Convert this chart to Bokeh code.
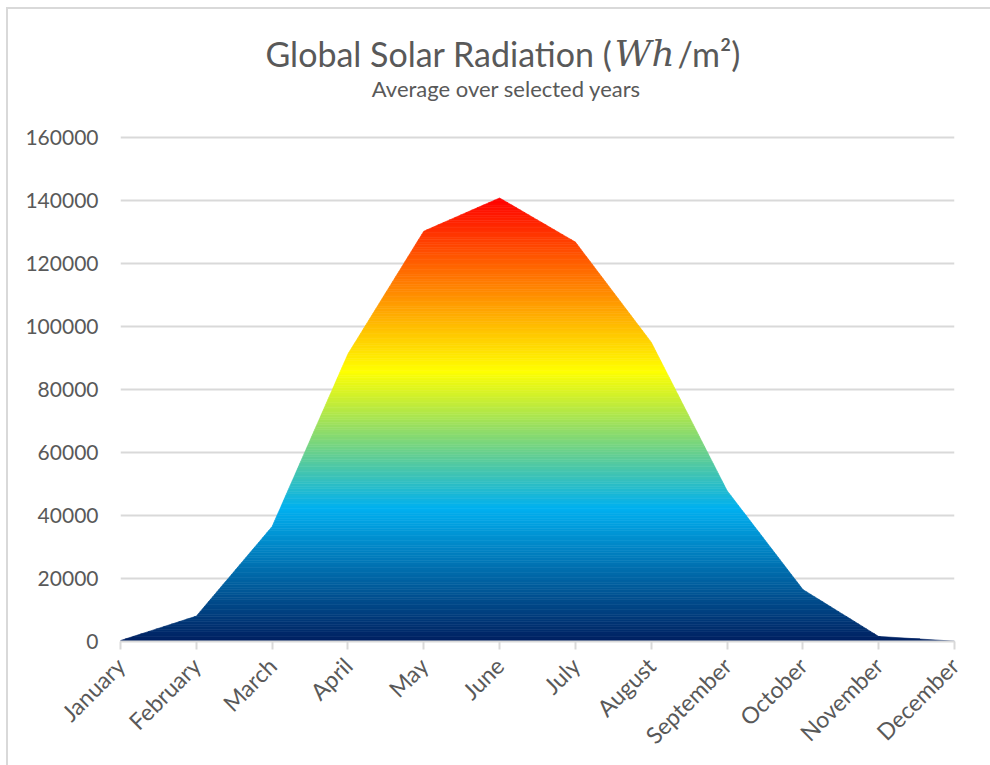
import math
from bokeh.plotting import figure
from bokeh.models import Label, FixedTicker, Range1d, NumeralTickFormatter
from bokeh.embed import file_html
from bokeh.resources import INLINE

# Monthly global solar radiation, averaged over the selected years (Wh/m2)
months = ["January", "February", "March", "April", "May", "June",
          "July", "August", "September", "October", "November", "December"]
radiation = [300, 8050, 36500, 91300, 130250, 140800,
             126800, 95000, 47900, 16500, 1600, 100]
y_ticks = [0, 20000, 40000, 60000, 80000, 100000, 120000, 140000, 160000]

# Vertical colour ramp of the area, as fractions of the peak value
ramp_pos = [0.0, 0.30, 0.61, 1.0]
ramp_col = ["#002060", "#00B0F0", "#FFFF00", "#FF0000"]

TEXT = "#595959"
GRID = "#d9d9d9"
FONT = "Lato"

x_idx = list(range(len(months)))
y_max = 160000

# Plot area: 504 px tall up to the 160000 gridline, plus the heading band above it
grid_h = 504
head_h = 128
y_top = y_max * (grid_h + head_h) / grid_h

p = figure(frame_width=834, frame_height=grid_h + head_h,
           min_border_left=112, min_border_right=36,
           min_border_top=0, min_border_bottom=124,
           x_range=Range1d(0, len(months) - 1), y_range=Range1d(0, y_top),
           output_backend="svg", toolbar_location=None,
           background_fill_color="white", border_fill_color="white")
p.outline_line_color = None
p.styles = {"margin-left": "6px", "margin-top": "7px",
            "border-left": "2px solid #d9d9d9", "border-top": "2px solid #d9d9d9"}


def hex_rgb(h):
    h = h.lstrip("#")
    return tuple(int(h[i:i + 2], 16) for i in (0, 2, 4))


def ramp(t):
    t = min(max(t, 0.0), 1.0)
    for i in range(len(ramp_pos) - 1):
        if t <= ramp_pos[i + 1]:
            a, b = ramp_pos[i], ramp_pos[i + 1]
            f = (t - a) / (b - a)
            c0, c1 = hex_rgb(ramp_col[i]), hex_rgb(ramp_col[i + 1])
            return "#%02x%02x%02x" % tuple(round(c0[k] + f * (c1[k] - c0[k])) for k in range(3))
    return ramp_col[-1]


def clip(poly, level, keep_above):
    """Clip a polygon against the horizontal line y = level."""
    out = []
    n = len(poly)
    for i in range(n):
        cur, nxt = poly[i], poly[(i + 1) % n]
        cin = cur[1] >= level if keep_above else cur[1] <= level
        nin = nxt[1] >= level if keep_above else nxt[1] <= level
        if cin:
            out.append(cur)
        if cin != nin:
            t = (level - cur[1]) / (nxt[1] - cur[1])
            out.append((cur[0] + t * (nxt[0] - cur[0]), level))
    return out


# Area outline built from the series, cut into thin horizontal bands
area = [(x_idx[0], 0)] + list(zip(x_idx, radiation)) + [(x_idx[-1], 0)]
peak = max(radiation)
n_bands = 180
xs, ys, cols = [], [], []
for b in range(n_bands):
    lo = peak * b / n_bands
    hi = peak * (b + 1) / n_bands
    poly = clip(clip(area, lo, True), hi, False)
    if len(poly) < 3:
        continue
    xs.append([q[0] for q in poly])
    ys.append([q[1] for q in poly])
    cols.append(ramp((lo + hi) / 2 / peak))

p.patches(xs, ys, fill_color=cols, line_color=cols, line_width=0.6)

# Axes
p.xaxis.ticker = FixedTicker(ticks=x_idx)
p.xaxis.major_label_overrides = {i: m for i, m in zip(x_idx, months)}
p.xaxis.major_label_orientation = math.pi / 4
p.xaxis.axis_line_color = GRID
p.xaxis.axis_line_width = 2
p.xaxis.major_tick_line_color = GRID
p.xaxis.major_tick_line_width = 2
p.xaxis.major_tick_in = 0
p.xaxis.major_tick_out = 8
p.xaxis.minor_tick_line_color = None
p.xaxis.major_label_text_font = FONT
p.xaxis.major_label_text_font_size = "23px"
p.xaxis.major_label_text_color = TEXT
p.xaxis.major_label_standoff = 12

p.yaxis.ticker = FixedTicker(ticks=y_ticks)
p.yaxis.formatter = NumeralTickFormatter(format="0")
p.yaxis.axis_line_color = None
p.yaxis.major_tick_line_color = None
p.yaxis.minor_tick_line_color = None
p.yaxis.major_tick_out = 0
p.yaxis.major_tick_in = 0
p.yaxis.major_label_standoff = 22
p.yaxis.major_label_text_font = FONT
p.yaxis.major_label_text_font_size = "21px"
p.yaxis.major_label_text_color = TEXT

p.xgrid.visible = False
p.ygrid.ticker = FixedTicker(ticks=y_ticks)
p.ygrid.grid_line_color = GRID
p.ygrid.grid_line_width = 2


# Headings in the band above the top gridline
def px_x(px):
    return (px - 120) / 834 * (len(months) - 1)


def px_y(py):
    return (641 - py) / grid_h * y_max


title_base = px_y(53)
heading = dict(text_color=TEXT, text_baseline="alphabetic")
p.add_layout(Label(x=px_x(612), y=title_base, text="Global Solar Radiation (",
                   text_font=FONT, text_font_size="34px", text_align="right", **heading))
p.add_layout(Label(x=px_x(614), y=title_base, text="Wh",
                   text_font="DejaVu Serif", text_font_style="italic",
                   text_font_size="36px", text_align="left", **heading))
p.add_layout(Label(x=px_x(677), y=title_base, text="/m²)",
                   text_font=FONT, text_font_size="34px", text_align="left", **heading))
p.add_layout(Label(x=px_x(506), y=px_y(88), text="Average over selected years",
                   text_font=FONT, text_font_size="22px", text_align="center", **heading))

open("out.html", "w").write(file_html(p, INLINE))
